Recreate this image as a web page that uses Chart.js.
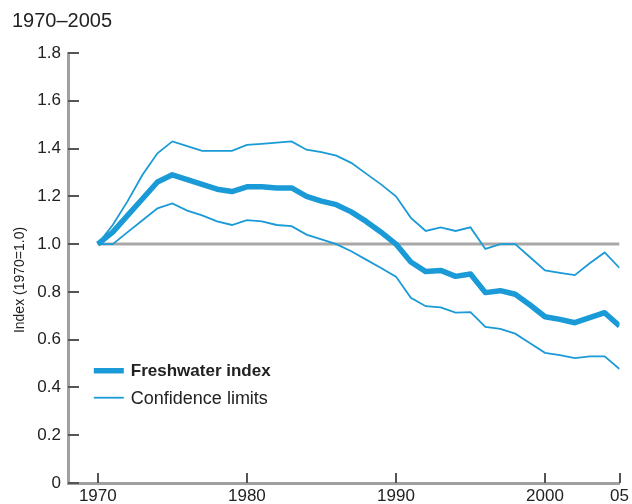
<!DOCTYPE html>
<html>
<head>
<meta charset="utf-8">
<script src="https://cdn.jsdelivr.net/npm/chart.js@4/dist/chart.umd.min.js"></script>
<style>
  html, body { margin: 0; padding: 0; background: #fff; }
  #wrap { width: 632px; height: 504px; position: relative; }
</style>
</head>
<body>
<div id="wrap"><canvas id="chart"></canvas></div>
<script>
const years = [1970, 1971, 1972, 1973, 1974, 1975, 1976, 1977, 1978, 1979,
  1980, 1981, 1982, 1983, 1984, 1985, 1986, 1987, 1988, 1989,
  1990, 1991, 1992, 1993, 1994, 1995, 1996, 1997, 1998, 1999,
  2000, 2001, 2002, 2003, 2004, 2005]

const freshwaterIndex = [1.0, 1.05, 1.12, 1.19, 1.26, 1.29, 1.27, 1.25, 1.23, 1.22,
  1.24, 1.24, 1.235, 1.235, 1.2, 1.18, 1.165, 1.135, 1.095, 1.05,
  1.0, 0.925, 0.885, 0.89, 0.865, 0.875, 0.797, 0.805, 0.79, 0.745,
  0.696, 0.685, 0.671, 0.692, 0.713, 0.657]

const upperLimit = [1.0, 1.08, 1.18, 1.29, 1.38, 1.43, 1.41, 1.39, 1.39, 1.39,
  1.415, 1.42, 1.425, 1.43, 1.395, 1.385, 1.37, 1.34, 1.295, 1.25,
  1.2, 1.11, 1.055, 1.07, 1.055, 1.07, 0.98, 1.0, 1.0, 0.945,
  0.89, 0.88, 0.87, 0.92, 0.965, 0.9]

const lowerLimit = [1.0, 1.0, 1.05, 1.1, 1.15, 1.17, 1.14, 1.12, 1.095, 1.08,
  1.1, 1.095, 1.08, 1.075, 1.04, 1.02, 1.0, 0.97, 0.935, 0.9,
  0.864, 0.775, 0.74, 0.735, 0.713, 0.715, 0.653, 0.645, 0.625, 0.585,
  0.545, 0.535, 0.523, 0.53, 0.53, 0.477]

const baselineYears = [1970, 2005]
const baselineValues = [1.0, 1.0]

const xTicks = [1970, 1980, 1990, 2000, 2005]
const xTickLabels = ['1970', '1980', '1990', '2000', '05']
const yTicks = [0, 0.2, 0.4, 0.6, 0.8, 1.0, 1.2, 1.4, 1.6, 1.8]

const title = '1970\u20132005'
const yTitle = 'Index (1970=1.0)'
const legendLabels = ['Freshwater index', 'Confidence limits']

const blue = '#1a9ad6'
const axisGray = '#a0a0a0'
const font = '"Liberation Sans", Arial, sans-serif'

const toPoints = (xs, ys) => xs.map((x, i) => ({ x: x, y: ys[i] }))

const decorations = {
  id: 'decorations',
  afterDraw(chart) {
    const ctx = chart.ctx
    const x = chart.scales.x
    const y = chart.scales.y
    const area = chart.chartArea
    ctx.save()

    // inward tick marks
    ctx.strokeStyle = '#555'
    ctx.lineWidth = 2
    yTicks.forEach(v => {
      const py = Math.round(y.getPixelForValue(v))
      ctx.beginPath()
      ctx.moveTo(area.left, py)
      ctx.lineTo(area.left + 11, py)
      ctx.stroke()
    })
    xTicks.forEach(v => {
      const px = Math.round(x.getPixelForValue(v))
      ctx.beginPath()
      ctx.moveTo(px, area.bottom)
      ctx.lineTo(px, area.bottom - 10)
      ctx.stroke()
    })

    // title
    ctx.fillStyle = '#222'
    ctx.font = '20px ' + font
    ctx.textAlign = 'left'
    ctx.textBaseline = 'alphabetic'
    ctx.fillText(title, 12, 27)

    // y axis title
    ctx.save()
    ctx.translate(24, 280)
    ctx.rotate(-Math.PI / 2)
    ctx.textAlign = 'center'
    ctx.font = '14px ' + font
    ctx.fillText(yTitle, 0, 0)
    ctx.restore()

    // legend
    const lx = x.getPixelForValue(1970) - 4
    const rows = [
      { py: y.getPixelForValue(0.47), width: 5.5, label: legendLabels[0], weight: 'bold ', size: 17 },
      { py: y.getPixelForValue(0.357), width: 1.8, label: legendLabels[1], weight: '', size: 18 }
    ]
    rows.forEach(r => {
      ctx.strokeStyle = blue
      ctx.lineWidth = r.width
      ctx.beginPath()
      ctx.moveTo(lx, r.py)
      ctx.lineTo(lx + 30, r.py)
      ctx.stroke()
      ctx.fillStyle = '#222'
      ctx.font = r.weight + r.size + 'px ' + font
      ctx.textBaseline = 'middle'
      ctx.fillText(r.label, lx + 37, r.py + 1)
    })
    ctx.restore()
  }
}

new Chart(document.getElementById('chart'), {
  type: 'line',
  data: {
    datasets: [
      {
        data: toPoints(baselineYears, baselineValues),
        borderColor: '#a8a8a8',
        borderWidth: 3,
        pointRadius: 0,
        order: 4
      },
      {
        data: toPoints(years, upperLimit),
        borderColor: blue,
        borderWidth: 1.8,
        pointRadius: 0,
        order: 2
      },
      {
        data: toPoints(years, lowerLimit),
        borderColor: blue,
        borderWidth: 1.8,
        pointRadius: 0,
        order: 2
      },
      {
        data: toPoints(years, freshwaterIndex),
        borderColor: blue,
        borderWidth: 5.5,
        borderJoinStyle: 'round',
        pointRadius: 0,
        order: 1
      }
    ]
  },
  options: {
    responsive: true,
    maintainAspectRatio: false,
    animation: false,
    layout: { padding: { top: 53, right: 10, left: 0, bottom: 0 } },
    plugins: {
      legend: { display: false },
      tooltip: { enabled: false }
    },
    scales: {
      x: {
        type: 'linear',
        min: 1968,
        max: 2005,
        afterBuildTicks: scale => { scale.ticks = xTicks.map(v => ({ value: v })) },
        afterFit: scale => { scale.height = 21 },
        grid: { display: false, drawTicks: false },
        border: { display: true, color: axisGray, width: 3 },
        ticks: {
          autoSkip: false,
          maxRotation: 0,
          padding: 3,
          color: '#222',
          font: { family: font, size: 17 },
          callback: (v) => xTickLabels[xTicks.indexOf(v)]
        }
      },
      y: {
        min: 0,
        max: 1.8,
        afterBuildTicks: scale => { scale.ticks = yTicks.map(v => ({ value: v })) },
        afterFit: scale => { scale.width = 68 },
        grid: { display: false, drawTicks: false },
        border: { display: true, color: axisGray, width: 3 },
        ticks: {
          padding: 7,
          color: '#222',
          font: { family: font, size: 17 },
          callback: v => v === 0 ? '0' : v.toFixed(1)
        }
      }
    }
  },
  plugins: [decorations]
})
</script>
</body>
</html>
